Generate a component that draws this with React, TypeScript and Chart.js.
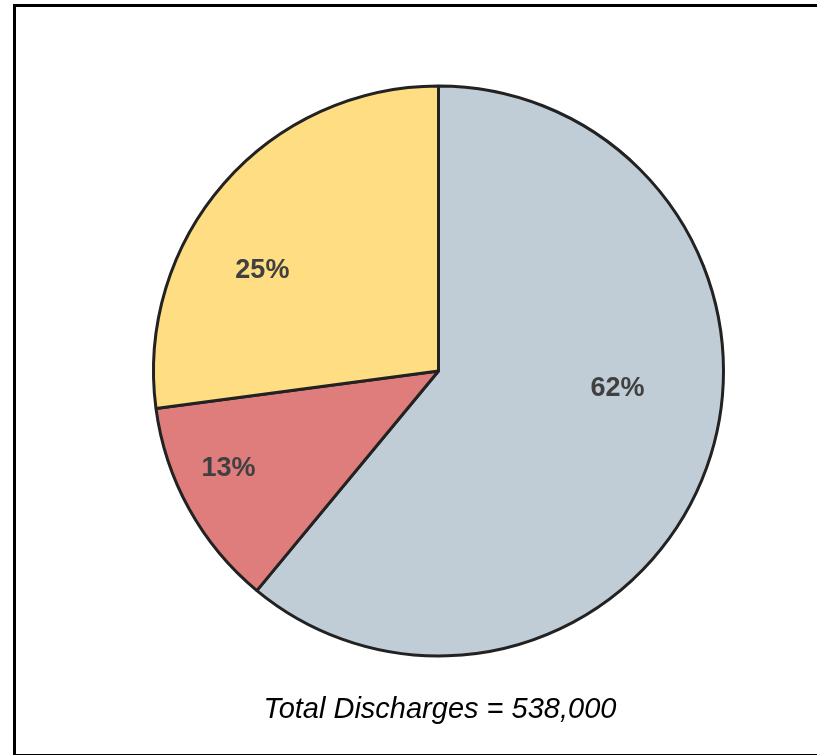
import React, { useEffect, useRef } from "react";
import { Chart, registerables } from "chart.js";

Chart.register(...registerables);

const categories = ["Category A", "Category B", "Category C"];
const shares = [61.0, 11.9, 27.1];
const shareLabels = ["62%", "13%", "25%"];
const totalText = "Total Discharges = 538,000";

const sliceColors = ["#C1CDD6", "#DE7D7C", "#FFDD83"];
// label anchor relative to pie centre, as fractions of the radius
const labelAnchors = [
  { fx: 0.628, fy: 0.063 },
  { fx: -0.737, fy: 0.344 },
  { fx: -0.618, fy: -0.354 },
];

const labelPlugin = {
  id: "sliceLabels",
  afterDatasetsDraw(chart: any) {
    const meta = chart.getDatasetMeta(0);
    const ctx = chart.ctx;
    ctx.save();
    ctx.font = "bold 27px 'Liberation Sans', Arial, sans-serif";
    ctx.fillStyle = "#404040";
    ctx.textAlign = "center";
    ctx.textBaseline = "middle";
    meta.data.forEach((arc: any, i: number) => {
      const { x, y, outerRadius } = arc.getProps(["x", "y", "outerRadius"], true);
      const a = labelAnchors[i];
      ctx.fillText(shareLabels[i], x + a.fx * outerRadius, y + a.fy * outerRadius);
    });
    ctx.restore();
  },
};

export default function App() {
  const ref = useRef<HTMLCanvasElement | null>(null);
  useEffect(() => {
    if (!ref.current) return;
    const chart = new Chart(ref.current, {
      type: "pie",
      data: {
        labels: categories,
        datasets: [
          {
            data: shares,
            backgroundColor: sliceColors,
            borderColor: "#222222",
            borderWidth: 3,
            borderAlign: "center",
          },
        ],
      },
      options: {
        responsive: false,
        animation: false,
        layout: { padding: { left: 152, right: 92, top: 84.5, bottom: 97.5 } },
        plugins: {
          legend: { display: false },
          tooltip: { enabled: false },
          title: { display: false },
        },
      },
      plugins: [labelPlugin],
    });
    return () => chart.destroy();
  }, []);

  return (
    <div style={{ position: "absolute", left: 0, top: 0, width: 817, height: 755, overflow: "hidden", background: "#fff" }}>
      <div
        style={{
          position: "absolute",
          left: 13,
          top: 4,
          width: 830,
          height: 753,
          border: "3px solid #000",
          boxSizing: "border-box",
        }}
      />
      <canvas ref={ref} width={817} height={755} style={{ position: "absolute", left: 0, top: 0 }} />
      <div
        style={{
          position: "absolute",
          left: 0,
          width: 880,
          top: 690,
          textAlign: "center",
          fontFamily: "'Liberation Sans', Arial, sans-serif",
          fontStyle: "italic",
          fontSize: 29,
          lineHeight: "36px",
          color: "#000",
        }}
      >
        {totalText}
      </div>
    </div>
  );
}
